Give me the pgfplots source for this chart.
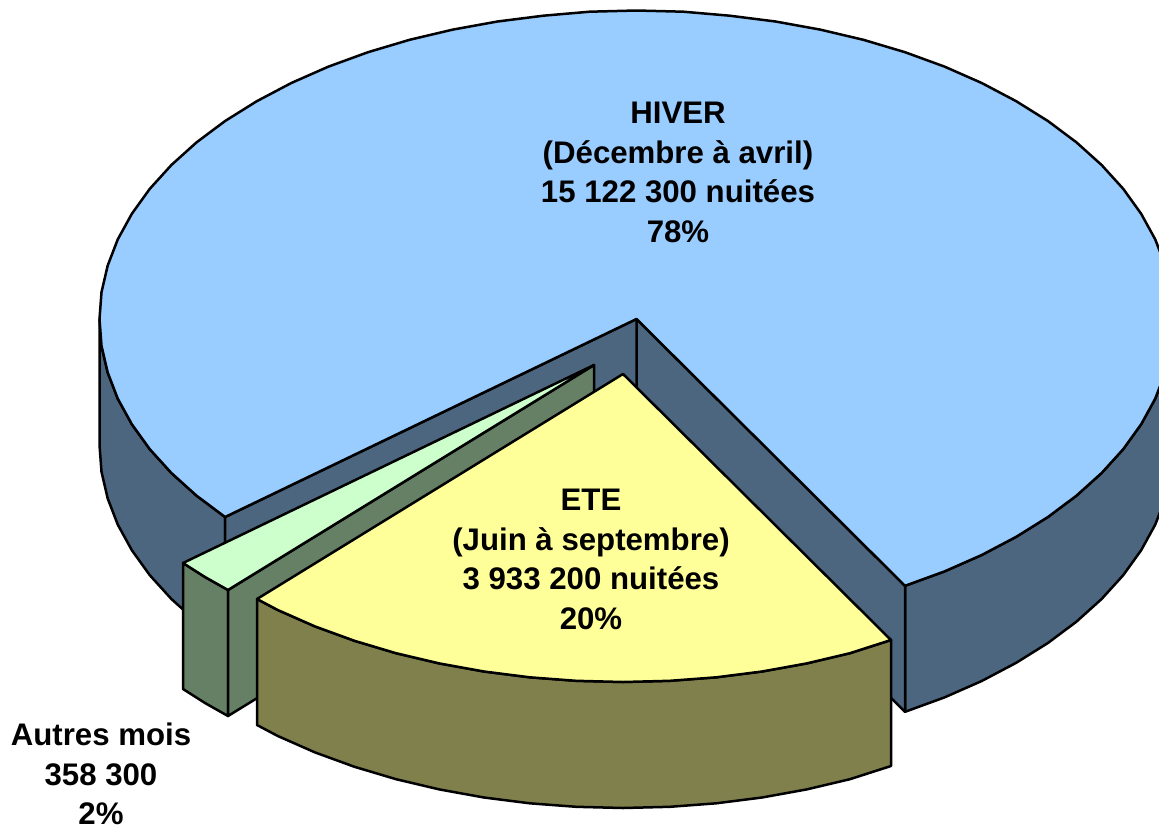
\documentclass[border=0pt]{standalone}
\usepackage{fontspec}
\setmainfont{Liberation Sans}
\usepackage{pgfplots}
\pgfplotsset{compat=1.18}
\definecolor{bluetop}{HTML}{99CCFF}
\definecolor{bluewall}{HTML}{4D6680}
\definecolor{greentop}{HTML}{CCFFCC}
\definecolor{greenwall}{HTML}{668066}
\definecolor{yellowtop}{HTML}{FFFF99}
\definecolor{yellowwall}{HTML}{80804D}
\tikzset{lab/.style={font=\fontsize{31.2}{39.6}\selectfont\bfseries, align=center, inner sep=0pt}}
\begin{document}
\begin{tikzpicture}
\useasboundingbox (0,0) rectangle (1159pt,828pt);
\begin{axis}[
  anchor=south west, at={(0,0)},
  scale only axis, width=1159pt, height=828pt,
  xmin=0, xmax=1159, ymin=0, ymax=828, y dir=reverse,
  hide axis,
  every axis plot/.append style={draw=black, line width=2.5pt, line join=round},
]
% blue slice: outer wall, left part
\addplot[fill=bluewall] coordinates {
 (99.5,319)(101.5,345.8)(107.7,372.5)(117.8,398.7)(131.9,424.3)(149.8,449.2)(171.4,473)(196.6,495.7)(225.1,517)
 (225.1,643)(196.6,621.7)(171.4,599)(149.8,575.2)(131.9,550.3)(117.8,524.7)(107.7,498.5)(101.5,471.8)(99.5,445)
} --cycle;
% blue slice: outer wall, right part
\addplot[fill=bluewall] coordinates {
 (905,585.8)(944.5,571.4)(981.7,555)(1016.2,536.8)(1047.9,517)(1076.4,495.7)(1101.6,473)(1123.2,449.2)(1141.1,424.3)(1155.2,398.7)(1165.3,372.5)(1171.5,345.8)(1173.5,319)
 (1173.5,445)(1171.5,471.8)(1165.3,498.5)(1155.2,524.7)(1141.1,550.3)(1123.2,575.2)(1101.6,599)(1076.4,621.7)(1047.9,643)(1016.2,662.8)(981.7,681)(944.5,697.4)(905,711.8)
} --cycle;
% blue slice: inner walls
\addplot[fill=bluewall] coordinates {(636.5,319)(905,585.8)(905,711.8)(636.5,445)} --cycle;
\addplot[fill=bluewall] coordinates {(636.5,319)(225.1,517)(225.1,643)(636.5,445)} --cycle;
% blue slice: top
\addplot[fill=bluetop] coordinates {
 (636.5,319)(905,585.8)(944.5,571.4)(981.7,555)(1016.2,536.8)(1047.9,517)(1076.4,495.7)(1101.6,473)(1123.2,449.2)(1141.1,424.3)(1155.2,398.7)(1165.3,372.5)(1171.5,345.8)(1173.5,319)
 (1171.5,292.2)(1165.3,265.5)(1155.2,239.3)(1141.1,213.7)(1123.2,188.8)(1101.6,165)(1076.4,142.3)(1047.9,121)(1016.2,101.2)(981.7,83)(944.5,66.6)(905,52.2)(863.4,39.8)(820.2,29.6)(775.5,21.5)(729.7,15.7)(683.3,11.7)(636.5,10.5)
 (589.7,11.7)(543.3,15.7)(497.5,21.5)(452.8,29.6)(409.6,39.8)(368,52.2)(328.5,66.6)(291.3,83)(256.8,101.2)(225.1,121)(196.6,142.3)(171.4,165)(149.8,188.8)(131.9,213.7)(117.8,239.3)(107.7,265.5)(101.5,292.2)(99.5,319)
 (101.5,345.8)(107.7,372.5)(117.8,398.7)(131.9,424.3)(149.8,449.2)(171.4,473)(196.6,495.7)(225.1,517)
} --cycle;
% green slice
\addplot[fill=greenwall] coordinates {(183,563)(205,577)(228,590)(228,716)(205,703)(183,689)} --cycle;
\addplot[fill=greenwall] coordinates {(594,365)(228,590)(228,716)(594,491)} --cycle;
\addplot[fill=greentop] coordinates {(594,365)(183,563)(205,577)(228,590)} --cycle;
% yellow slice
\addplot[fill=yellowwall] coordinates {
 (257,599)(277.8,610)(315,626.4)(354.5,640.8)(396.1,653.2)(439.3,663.4)(484,671.5)(529.8,677.3)(576.2,680.8)(623,682)(669.8,680.8)(716.2,677.3)(762,671.5)(806.7,663.4)(849.9,653.2)(891,640)
 (891,766)(849.9,779.2)(806.7,789.4)(762,797.5)(716.2,803.3)(669.8,806.8)(623,808)(576.2,806.8)(529.8,803.3)(484,797.5)(439.3,789.4)(396.1,779.2)(354.5,766.8)(315,752.4)(277.8,736)(257,725)
} --cycle;
\addplot[fill=yellowtop] coordinates {
 (623,374)(257,599)(277.8,610)(315,626.4)(354.5,640.8)(396.1,653.2)(439.3,663.4)(484,671.5)(529.8,677.3)(576.2,680.8)(623,682)(669.8,680.8)(716.2,677.3)(762,671.5)(806.7,663.4)(849.9,653.2)(891,640)
} --cycle;
\node[lab] at (axis cs:678,172.5) {HIVER\\(Décembre à avril)\\15 122 300 nuitées\\78\%};
\node[lab] at (axis cs:591,559.5) {ETE\\(Juin à septembre)\\3 933 200 nuitées\\20\%};
\node[lab] at (axis cs:101,774) {Autres mois\\358 300\\2\%};
\end{axis}
\end{tikzpicture}
\end{document}
